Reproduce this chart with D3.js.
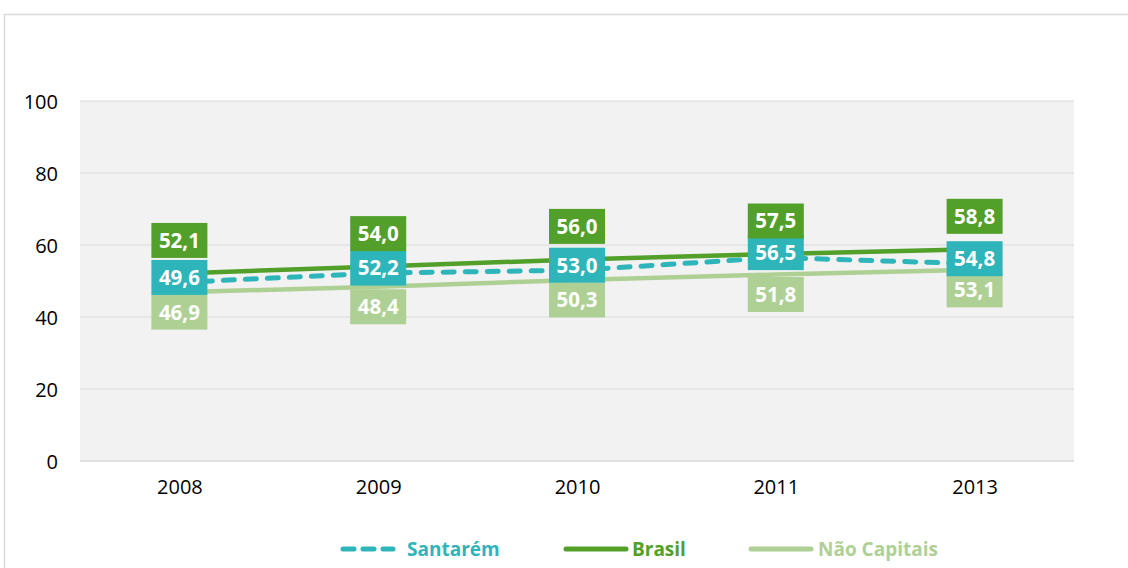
<!DOCTYPE html>
<html>
<head>
<meta charset="utf-8">
<script src="https://cdn.jsdelivr.net/npm/d3@7"></script>
<style>
  body { margin: 0; background: #fff; }
  text { font-family: "Open Sans", sans-serif; }
</style>
</head>
<body>
<div id="chart"></div>
<script>
var years = ["2008", "2009", "2010", "2011", "2013"];
var santarem = [49.6, 52.2, 53.0, 56.5, 54.8];
var brasil = [52.1, 54.0, 56.0, 57.5, 58.8];
var naoCapitais = [46.9, 48.4, 50.3, 51.8, 53.1];
var yTicks = [0, 20, 40, 60, 80, 100];

var W = 1128, H = 568;
var margin = { top: 101, right: 54, bottom: 107, left: 80 },
    width = W - margin.left - margin.right,
    height = H - margin.top - margin.bottom;

var svg = d3.select("#chart")
    .append("svg")
    .attr("width", W)
    .attr("height", H);

// outer chart border (runs off the right/bottom edges)
svg.append("rect")
    .attr("x", 4.5).attr("y", 14.5)
    .attr("width", 1200).attr("height", 700)
    .attr("fill", "none")
    .attr("stroke", "#d9d9d9")
    .attr("stroke-width", 1.5);

var g = svg.append("g")
    .attr("transform", "translate(" + margin.left + "," + margin.top + ")");

var x = d3.scalePoint().domain(years).range([0, width]).padding(0.5);
var y = d3.scaleLinear().domain([0, 100]).range([height, 0]);

g.append("rect")
    .attr("width", width).attr("height", height)
    .attr("fill", "#f2f2f2");

// grid
g.selectAll(".grid")
    .data(yTicks)
    .enter().append("line")
    .attr("x1", 0).attr("x2", width)
    .attr("y1", function(d) { return y(d); })
    .attr("y2", function(d) { return y(d); })
    .attr("stroke", "#d9d9d9")
    .attr("stroke-width", function(d) { return d === 0 ? 1.5 : 1.2; });

var yAxis = g.append("g")
    .attr("transform", "translate(-22,0)")
    .call(d3.axisLeft(y).tickValues(yTicks).tickSize(0).tickPadding(0));
yAxis.select(".domain").remove();
yAxis.selectAll("text")
    .style("font-size", "20px")
    .style("fill", "#000")
    .style("font-family", "'Open Sans', sans-serif")
    .attr("dy", "0.35em");

var xAxis = g.append("g")
    .attr("transform", "translate(0," + height + ")")
    .call(d3.axisBottom(x).tickSize(0).tickPadding(19));
xAxis.select(".domain").remove();
xAxis.selectAll("text")
    .style("font-size", "20px")
    .style("fill", "#000")
    .style("font-family", "'Open Sans', sans-serif");

var series = [
    { name: "Não Capitais", values: naoCapitais, color: "#afd095", dash: null, offset: 20 },
    { name: "Santarém", values: santarem, color: "#2eb5b9", dash: "11,11", offset: -5 },
    { name: "Brasil", values: brasil, color: "#52a02a", dash: null, offset: -33 }
];

var line = d3.line()
    .x(function(d, i) { return x(years[i]); })
    .y(function(d) { return y(d); });

series.forEach(function(s) {
    g.append("path")
        .datum(s.values)
        .attr("d", line)
        .attr("fill", "none")
        .attr("stroke", s.color)
        .attr("stroke-width", s.dash ? 5 : 4.5)
        .attr("stroke-linecap", "round")
        .attr("stroke-dasharray", s.dash);
});

// data label boxes
var boxW = 56, boxH = 35;
series.forEach(function(s) {
    var lab = g.selectAll(null)
        .data(s.values)
        .enter().append("g")
        .attr("transform", function(d, i) {
            return "translate(" + x(years[i]) + "," + (y(d) + s.offset) + ")";
        });
    lab.append("rect")
        .attr("x", -boxW / 2).attr("y", -boxH / 2)
        .attr("width", boxW).attr("height", boxH)
        .attr("fill", s.color);
    lab.append("text")
        .attr("text-anchor", "middle")
        .attr("dy", "0.36em")
        .style("font-size", "20.5px")
        .style("font-weight", "bold")
        .style("fill", "#fff")
        .text(function(d) { return d.toFixed(1).replace(".", ","); });
});

// legend
var legendItems = [
    { name: "Santarém", color: "#2eb5b9", dash: "11,9", x1: 343, x2: 393, tx: 407 },
    { name: "Brasil", color: "#52a02a", dash: null, x1: 566, x2: 626, tx: 632 },
    { name: "Não Capitais", color: "#afd095", dash: null, x1: 751, x2: 811, tx: 818 }
];
var legend = svg.append("g").attr("transform", "translate(0,549)");
legendItems.forEach(function(l) {
    legend.append("line")
        .attr("x1", l.x1).attr("x2", l.x2)
        .attr("stroke", l.color)
        .attr("stroke-width", 5)
        .attr("stroke-linecap", "round")
        .attr("stroke-dasharray", l.dash);
    legend.append("text")
        .attr("x", l.tx)
        .attr("dy", "0.36em")
        .style("font-size", "19px")
        .style("font-weight", "bold")
        .style("fill", l.color)
        .text(l.name);
});
</script>
</body>
</html>
